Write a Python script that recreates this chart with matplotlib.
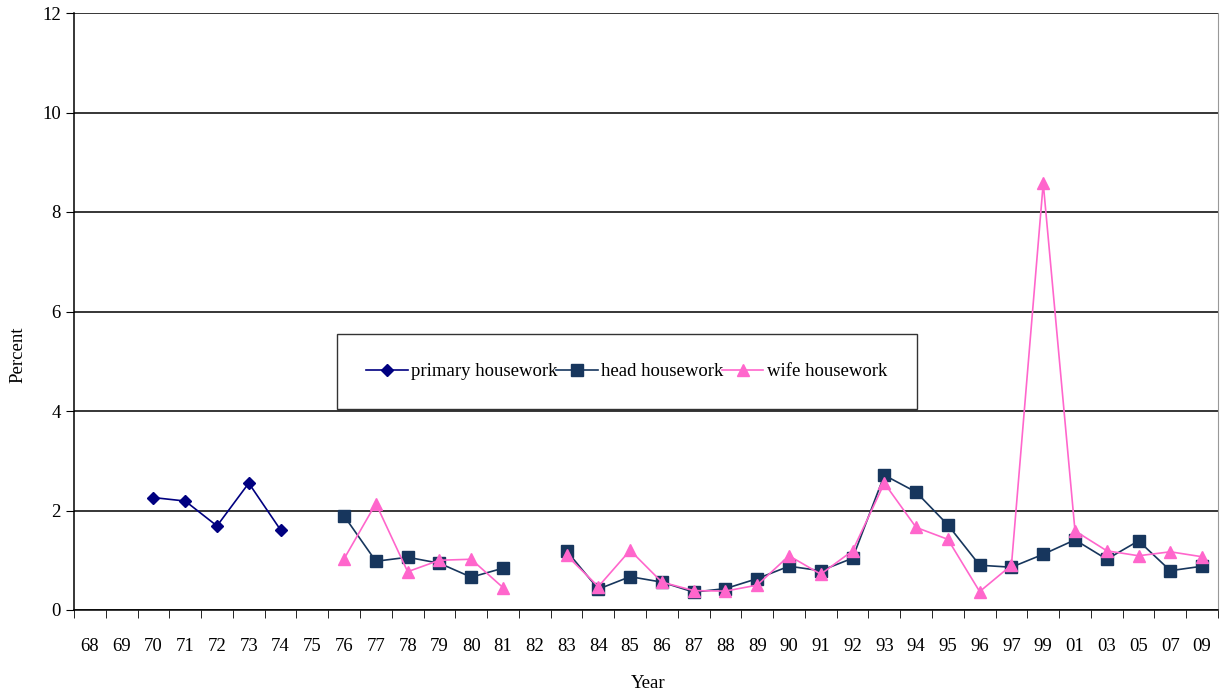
import numpy as np
import matplotlib.pyplot as plt

# Данные: годы и три ряда (NaN = нет данных)
years = ["68", "69", "70", "71", "72", "73", "74", "75", "76", "77", "78", "79",
         "80", "81", "82", "83", "84", "85", "86", "87", "88", "89", "90", "91",
         "92", "93", "94", "95", "96", "97", "99", "01", "03", "05", "07", "09"]
nan = np.nan
primary = [nan, nan, 2.26, 2.19, 1.69, 2.55, 1.61, nan, nan, nan, nan, nan,
           nan, nan, nan, nan, nan, nan, nan, nan, nan, nan, nan, nan,
           nan, nan, nan, nan, nan, nan, nan, nan, nan, nan, nan, nan]
head = [nan, nan, nan, nan, nan, nan, nan, nan, 1.89, 0.98, 1.06, 0.94,
        0.66, 0.84, nan, 1.19, 0.42, 0.67, 0.56, 0.36, 0.43, 0.63, 0.88, 0.79,
        1.04, 2.71, 2.37, 1.71, 0.90, 0.86, 1.12, 1.41, 1.02, 1.39, 0.79, 0.88]
wife = [nan, nan, nan, nan, nan, nan, nan, nan, 1.03, 2.14, 0.77, 1.00,
        1.02, 0.45, nan, 1.10, 0.47, 1.20, 0.56, 0.39, 0.38, 0.50, 1.09, 0.72,
        1.19, 2.55, 1.66, 1.42, 0.37, 0.90, 8.58, 1.59, 1.19, 1.09, 1.17, 1.07]

plt.rcParams['font.family'] = ['Liberation Serif', 'DejaVu Serif']

fig = plt.figure(figsize=(12.22, 7), dpi=100)
ax = fig.add_axes([74 / 1222, 90 / 700, 1144 / 1222, 597 / 700])

x = np.arange(len(years))
ax.plot(x, primary, color='#000080', marker='D', markersize=6, linewidth=1.2,
        label='primary housework')
ax.plot(x, head, color='#17365D', marker='s', markersize=8, linewidth=1.2,
        label='head housework')
ax.plot(x, wife, color='#FF66CC', marker='^', markersize=8, linewidth=1.2,
        label='wife housework')

ax.set_xlim(-0.5, len(years) - 0.5)
ax.set_ylim(0, 12)
ax.set_yticks(range(0, 13, 2))
ax.yaxis.grid(True, color='black', linewidth=1.1)
ax.set_axisbelow(True)

# подписи по центру категорий, засечки между категориями
ax.set_xticks(x)
ax.set_xticklabels(years, fontsize=13.5)
ax.tick_params(axis='x', which='major', length=0, pad=20)
ax.set_xticks(np.arange(-0.5, len(years)), minor=True)
ax.tick_params(axis='x', which='minor', length=6, direction='out', color='black')
ax.tick_params(axis='y', labelsize=13.5, length=6, direction='out')

ax.spines['top'].set_visible(False)
ax.spines['right'].set_color('#999999')
ax.spines['left'].set_linewidth(1.1)
ax.spines['bottom'].set_linewidth(1.1)

fig.text(648 / 1222, 1 - 684 / 700, 'Year', ha='center', va='center', fontsize=13.5)
fig.text(18 / 1222, 1 - 355 / 700, 'Percent', ha='center', va='center',
         rotation=90, fontsize=13.5)

leg = fig.legend(loc='center', bbox_to_anchor=(328 / 1222, 289 / 700, 598 / 1222, 79 / 700),
                 mode='expand', ncol=3, fontsize=13.5, frameon=True, fancybox=False,
                 borderpad=1.55, handlelength=2.2, handletextpad=0.2, columnspacing=0.6)
leg.get_frame().set_edgecolor('black')
leg.get_frame().set_linewidth(1.0)

fig.savefig('out.png', dpi=100)
